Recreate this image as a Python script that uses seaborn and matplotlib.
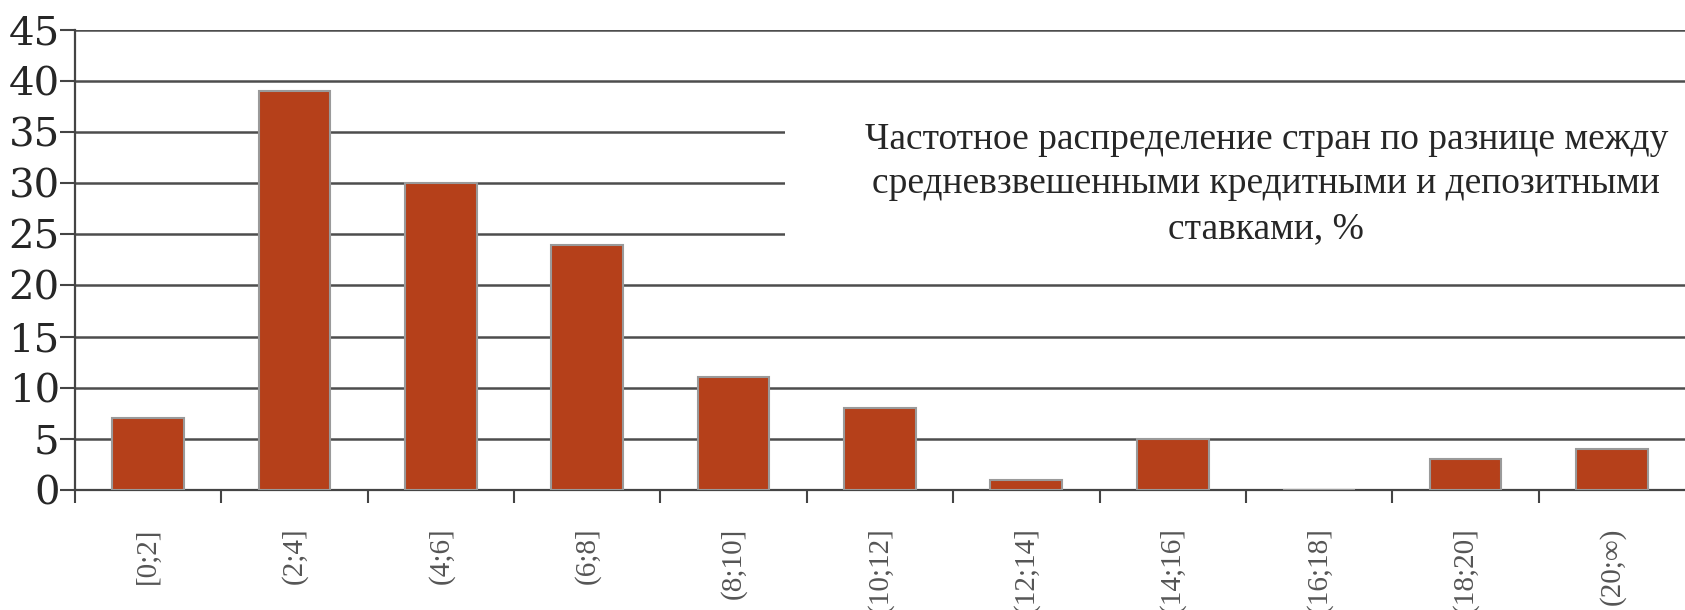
import seaborn as sns
import pandas as pd
import matplotlib.pyplot as plt
from matplotlib.patches import Rectangle
from matplotlib.ticker import MultipleLocator

bins = ["[0;2]", "(2;4]", "(4;6]", "(6;8]", "(8;10]", "(10;12]",
        "(12;14]", "(14;16]", "(16;18]", "(18;20]", "(20;\u221e)"]
counts = [7, 39, 30, 24, 11, 8, 1, 5, 0, 3, 4]
title = ("Частотное распределение стран по разнице между\n"
         "средневзвешенными кредитными и депозитными\n"
         "ставками, %")

df = pd.DataFrame({"bin": bins, "count": counts})

sns.set_style("white")
plt.rcParams['font.family'] = ['DejaVu Serif']

fig = plt.figure(figsize=(16.85, 6.10), dpi=100)
ax = fig.add_axes([0.0445, 0.197, 0.9555, 0.754])

sns.barplot(data=df, x="bin", y="count", color="#b5401a", saturation=1,
            width=0.49, edgecolor="#9a9a9a", linewidth=1.5, ax=ax, zorder=3)

ax.set_xlim(-0.5, len(bins) - 0.5)
ax.set_ylim(0, 45)
ax.yaxis.set_major_locator(MultipleLocator(5))
ax.grid(axis="y", color="#4d4d4d", linewidth=1.8, zorder=0)
ax.set_axisbelow(True)

for s in ["top", "right"]:
    ax.spines[s].set_visible(False)
for s in ["left", "bottom"]:
    ax.spines[s].set_color("#444444")
    ax.spines[s].set_linewidth(1.6)

# white box behind the caption, hides part of the grid
ax.add_patch(Rectangle((4.35, 21.6), 6.3, 17.4, facecolor="white",
                       edgecolor="none", zorder=1.5))
ax.text(7.64, 29.9, title, ha="center", va="center", fontsize=27,
        family=["Liberation Serif"], linespacing=1.38, zorder=4)

# category labels centred, tick marks on the boundaries
ax.set_xticks(range(len(bins)))
ax.set_xticklabels(bins, rotation=90, fontsize=21, color="#555555",
                   family=["Liberation Serif"])
ax.tick_params(axis="x", which="major", length=0, pad=27)
ax.set_xticks([i - 0.5 for i in range(len(bins))], minor=True)
ax.tick_params(axis="x", which="minor", bottom=True, length=9, width=1.5,
               color="#444444", direction="out")
ax.tick_params(axis="y", length=11, width=1.5, color="#444444",
               labelsize=29, pad=0, left=True)
ax.set_xlabel("")
ax.set_ylabel("")

fig.savefig("out.png", dpi=100)
